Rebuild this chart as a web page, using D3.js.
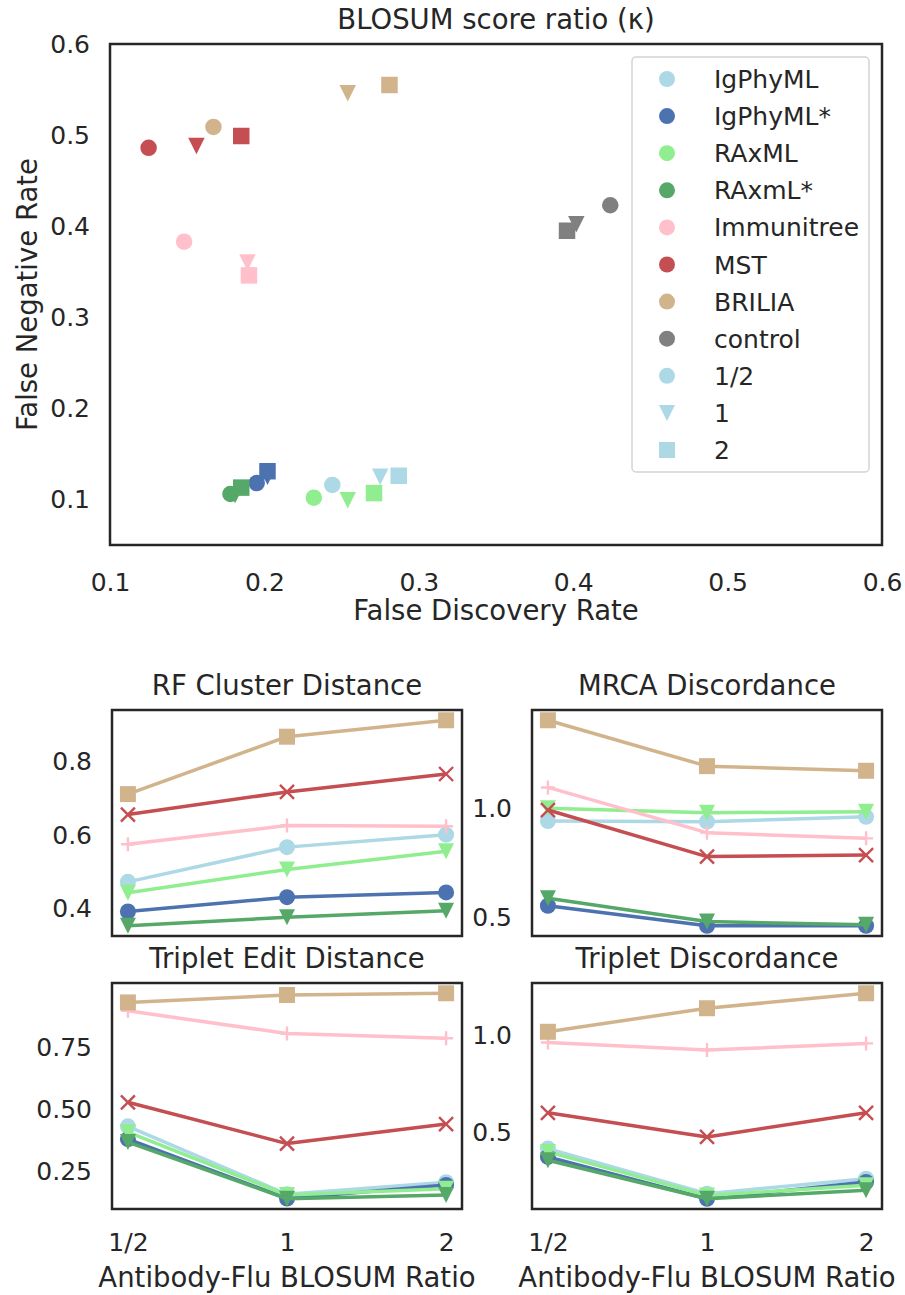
<!DOCTYPE html>
<html>
<head>
<meta charset="utf-8">
<script src="https://cdn.jsdelivr.net/npm/d3@7"></script>
<style>
  body { margin: 0; background: #fff; }
  text { font-family: "DejaVu Sans", sans-serif; fill: #262626; }
</style>
</head>
<body>
<svg id="fig" width="905" height="1295"></svg>
<script>
// ---- methods, colours, ratios ----
const methods = ["IgPhyML", "IgPhyML*", "RAxML", "RAxmL*", "Immunitree", "MST", "BRILIA", "control"];
const methodColors = ["#add8e6", "#4c72b0", "#90ee90", "#55a868", "#ffc0cb", "#c44e52", "#d2b48c", "#808080"];
const ratioLabels = ["1/2", "1", "2"];
const ratioShapes = ["circle", "triangleDown", "square"];
const lineShapes = ["circle", "circle", "triangleDown", "triangleDown", "plus", "cross", "square"];

// ---- scatter: false discovery / false negative rate per method at ratios 1/2, 1, 2 ----
const fdrByMethod = [
  [0.244, 0.275, 0.287],
  [0.195, 0.202, 0.202],
  [0.232, 0.254, 0.271],
  [0.178, 0.181, 0.185],
  [0.148, 0.189, 0.190],
  [0.125, 0.156, 0.185],
  [0.167, 0.254, 0.281],
  [0.424, 0.402, 0.396]
];
const fnrByMethod = [
  [0.116, 0.125, 0.126],
  [0.118, 0.125, 0.131],
  [0.102, 0.099, 0.107],
  [0.106, 0.105, 0.113],
  [0.383, 0.360, 0.346],
  [0.486, 0.488, 0.499],
  [0.509, 0.546, 0.555],
  [0.423, 0.402, 0.395]
];
const scatterXTicks = [0.1, 0.2, 0.3, 0.4, 0.5, 0.6];
const scatterYTicks = [0.1, 0.2, 0.3, 0.4, 0.5, 0.6];

// ---- line panels: metric per method (no control) at ratios 1/2, 1, 2 ----
const rfCluster = [
  [0.472, 0.567, 0.601],
  [0.391, 0.430, 0.443],
  [0.442, 0.506, 0.556],
  [0.352, 0.375, 0.393],
  [0.575, 0.626, 0.624],
  [0.656, 0.718, 0.767],
  [0.712, 0.869, 0.914]
];
const mrcaDiscordance = [
  [0.941, 0.938, 0.960],
  [0.555, 0.464, 0.464],
  [0.999, 0.979, 0.983],
  [0.589, 0.483, 0.468],
  [1.094, 0.888, 0.862],
  [0.991, 0.779, 0.786],
  [1.400, 1.191, 1.170]
];
const tripletEdit = [
  [0.433, 0.158, 0.207],
  [0.381, 0.141, 0.196],
  [0.409, 0.155, 0.180],
  [0.369, 0.140, 0.155],
  [0.900, 0.808, 0.789],
  [0.530, 0.363, 0.442],
  [0.934, 0.964, 0.971]
];
const tripletDiscordance = [
  [0.416, 0.184, 0.261],
  [0.373, 0.158, 0.244],
  [0.399, 0.175, 0.227],
  [0.356, 0.158, 0.201],
  [0.962, 0.923, 0.957],
  [0.600, 0.476, 0.600],
  [1.017, 1.138, 1.215]
];
const rfTicks = [0.4, 0.6, 0.8];
const mrcaTicks = [0.5, 1.0];
const tripletEditTicks = [0.25, 0.50, 0.75];
const tripletDiscTicks = [0.5, 1.0];

const svg = d3.select("#fig");
const spineColor = "#262626";
const tickFont = 25, labelFont = 27.5, legendFont = 25;

// marker path generator, centred on (0,0)
function markerPath(shape, s) {
  const h = s / 2;
  if (shape === "circle") return d3.symbol().type(d3.symbolCircle).size(Math.PI * h * h)();
  if (shape === "square") return `M${-h},${-h}H${h}V${h}H${-h}Z`;
  if (shape === "triangleDown") return `M${-h},${-h}L${h},${-h}L0,${h}Z`;
  if (shape === "plus") return `M${-h},0H${h}M0,${-h}V${h}`;
  if (shape === "cross") return `M${-h},${-h}L${h},${h}M${-h},${h}L${h},${-h}`;
}
function drawMarker(g, shape, color, s) {
  const stroked = shape === "plus" || shape === "cross";
  return g.append("path")
    .attr("d", markerPath(shape, s))
    .attr("fill", stroked ? "none" : color)
    .attr("stroke", stroked ? color : "none")
    .attr("stroke-width", stroked ? 2.4 : 0);
}

// ================= Scatter panel =================
const sc = { left: 110, right: 882, top: 44, bottom: 545 };
const sx = d3.scaleLinear().domain([0.1, 0.6]).range([sc.left, sc.right]);
const sy = d3.scaleLinear().domain([0.05, 0.6]).range([sc.bottom, sc.top]);

const gS = svg.append("g");
const scatterPts = gS.append("g");
methods.forEach((m, i) => {
  ratioShapes.forEach((shape, j) => {
    drawMarker(scatterPts.append("g")
      .attr("transform", `translate(${sx(fdrByMethod[i][j])},${sy(fnrByMethod[i][j])})`),
      shape, methodColors[i], 16.5);
  });
});

// axis tick labels via d3 axes (no tick lines)
const xAxisS = d3.axisBottom(sx).tickValues(scatterXTicks).tickFormat(d3.format(".1f")).tickSize(0).tickPadding(28);
const yAxisS = d3.axisLeft(sy).tickValues(scatterYTicks).tickFormat(d3.format(".1f")).tickSize(0).tickPadding(20);
function styleAxis(g) {
  g.select(".domain").remove();
  g.selectAll("text").attr("font-size", tickFont).attr("fill", "#262626")
    .attr("font-family", "DejaVu Sans, sans-serif");
}
gS.append("g").attr("transform", `translate(0,${sc.bottom})`).call(xAxisS).call(styleAxis);
gS.append("g").attr("transform", `translate(${sc.left},0)`).call(yAxisS).call(styleAxis);

gS.append("rect").attr("x", sc.left).attr("y", sc.top)
  .attr("width", sc.right - sc.left).attr("height", sc.bottom - sc.top)
  .attr("fill", "none").attr("stroke", spineColor).attr("stroke-width", 2.5);

gS.append("text").attr("x", (sc.left + sc.right) / 2).attr("y", 29)
  .attr("text-anchor", "middle").attr("font-size", labelFont).text("BLOSUM score ratio (κ)");
gS.append("text").attr("x", (sc.left + sc.right) / 2).attr("y", 620)
  .attr("text-anchor", "middle").attr("font-size", labelFont).text("False Discovery Rate");
gS.append("text").attr("transform", `translate(37,${(sc.top + sc.bottom) / 2}) rotate(-90)`)
  .attr("text-anchor", "middle").attr("font-size", labelFont).text("False Negative Rate");

// legend
const legendItems = methods.map((m, i) => ({ label: m, color: methodColors[i], shape: "circle" }))
  .concat(ratioLabels.map((r, j) => ({ label: r, color: methodColors[0], shape: ratioShapes[j] })));
const lg = gS.append("g");
lg.append("rect").attr("x", 632).attr("y", 57).attr("width", 237).attr("height", 415)
  .attr("rx", 4).attr("fill", "#fff").attr("fill-opacity", 0.8)
  .attr("stroke", "#d4d4d4").attr("stroke-width", 1.5);
legendItems.forEach((d, k) => {
  const y = 79 + k * 37.1;
  drawMarker(lg.append("g").attr("transform", `translate(667,${y})`), d.shape, d.color, 16);
  lg.append("text").attr("x", 714).attr("y", y).attr("dy", "0.36em")
    .attr("font-size", legendFont).text(d.label);
});

// ================= Line panels =================
const panels = [
  { title: "RF Cluster Distance", data: rfCluster, ticks: rfTicks, fmt: ".1f", left: 112, top: 710 },
  { title: "MRCA Discordance", data: mrcaDiscordance, ticks: mrcaTicks, fmt: ".1f", left: 532, top: 710 },
  { title: "Triplet Edit Distance", data: tripletEdit, ticks: tripletEditTicks, fmt: ".2f", left: 112, top: 983, xlab: true },
  { title: "Triplet Discordance", data: tripletDiscordance, ticks: tripletDiscTicks, fmt: ".1f", left: 532, top: 983, xlab: true }
];
const pw = 350, ph = 226;

panels.forEach(p => {
  const g = svg.append("g");
  const x = d3.scaleLinear().domain([-0.1, 2.1]).range([p.left, p.left + pw]);
  const all = p.data.flat();
  const [lo, hi] = d3.extent(all);
  const pad = (hi - lo) * 0.05;
  const y = d3.scaleLinear().domain([lo - pad, hi + pad]).range([p.top + ph, p.top]);

  const line = d3.line().x((d, j) => x(j)).y(d => y(d));
  p.data.forEach((vals, i) => {
    const s = g.append("g");
    s.append("path").attr("d", line(vals)).attr("fill", "none")
      .attr("stroke", methodColors[i]).attr("stroke-width", 3.5).attr("stroke-linejoin", "round");
    vals.forEach((v, j) => {
      drawMarker(s.append("g").attr("transform", `translate(${x(j)},${y(v)})`),
        lineShapes[i], methodColors[i], lineShapes[i] === "cross" || lineShapes[i] === "plus" ? 14 : 16);
    });
  });

  const yAx = d3.axisLeft(y).tickValues(p.ticks).tickFormat(d3.format(p.fmt)).tickSize(0).tickPadding(20);
  g.append("g").attr("transform", `translate(${p.left},0)`).call(yAx).call(styleAxis);
  if (p.xlab) {
    const xAx = d3.axisBottom(x).tickValues([0, 1, 2]).tickFormat((d, j) => ratioLabels[j]).tickSize(0).tickPadding(24);
    g.append("g").attr("transform", `translate(0,${p.top + ph})`).call(xAx).call(styleAxis);
    g.append("text").attr("x", p.left + pw / 2).attr("y", 1287)
      .attr("text-anchor", "middle").attr("font-size", labelFont).text("Antibody-Flu BLOSUM Ratio");
  }
  g.append("rect").attr("x", p.left).attr("y", p.top).attr("width", pw).attr("height", ph)
    .attr("fill", "none").attr("stroke", spineColor).attr("stroke-width", 2.5);
  g.append("text").attr("x", p.left + pw / 2).attr("y", p.top - 15)
    .attr("text-anchor", "middle").attr("font-size", labelFont).text(p.title);
});
</script>
</body>
</html>
